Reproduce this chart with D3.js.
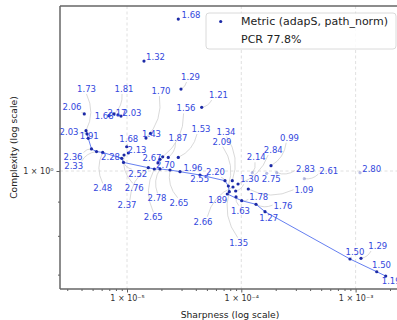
<!DOCTYPE html>
<html>
<head>
<meta charset="utf-8">
<script src="https://cdn.jsdelivr.net/npm/d3@7"></script>
<style>
  body { margin: 0; background: #fff; }
  text { font-family: "DejaVu Sans", sans-serif; }
</style>
</head>
<body>
<svg id="chart" width="397" height="320"></svg>
<script>
// metric value shown next to each run
const labels = [
  '1.68', '1.32', '1.29', '1.21', '1.43', '1.70', '2.06', '1.68', '1.81', '2.17',
  '2.03', '1.73', '2.03', '1.91', '2.36', '2.33', '2.48', '1.68', '2.13', '2.76',
  '2.28', '2.52', '2.37', '2.65', '2.78', '2.65', '1.96', '2.55', '2.20', '2.67',
  '2.70', '1.56', '1.87', '1.53', '1.34', '2.09', '1.35', '1.89', '1.30', '2.66',
  '2.84', '1.63', '1.09', '1.78', '1.76', '1.27', '0.99', '2.14', '2.75', '2.83',
  '2.61', '2.80', '1.50', '1.29', '1.50', '1.19',
]
const sharpness = [
  2.81e-5, 1.408e-5, 2.968e-5, 4.504e-5, 1.605e-5, 1.466e-5, 4.23e-6, 6.96e-6, 7.7e-6, 8.34e-6,
  8.86e-6, 4.38e-6, 4.47e-6, 4.585e-6, 4.89e-6, 5.41e-6, 6.13e-6, 9.94e-6, 1.027e-5, 9.42e-6,
  8.99e-6, 9.32e-6, 1.536e-5, 1.733e-5, 1.944e-5, 2.378e-5, 2.909e-5, 4.353e-5, 7.2e-5, 1.944e-5,
  1.867e-5, 2.053e-5, 2.297e-5, 2.81e-5, 8.34e-5, 7.7e-5, 7.85e-5, 7.54e-5, 8.93e-5, 8.46e-5,
  9.36e-5, 8.99e-5, 1.151e-4, 1.008e-4, 1.345e-4, 1.612e-4, 1.819e-4, 1.248e-4, 1.668e-4, 2.04e-4,
  3.557e-4, 1.093e-3, 8.93e-4, 1.115e-3, 1.53e-3, 1.834e-3,
]
const complexity = [
  1.687, 1.46, 1.326, 1.245, 1.138, 1.12, 1.217, 1.21, 1.217, 1.213,
  1.208, 1.149, 1.136, 1.119, 1.079, 1.069, 1.066, 1.087, 1.064, 1.0566,
  1.0447, 1.03, 1.0114, 1.0069, 1.0069, 1.0034, 0.9976, 0.9863, 0.9672, 1.041,
  1.028, 1.05, 1.048, 1.048, 0.9672, 0.9497, 0.9313, 0.9239, 0.9335, 0.9464,
  0.9563, 0.9145, 0.94, 0.9028, 0.8917, 0.8694, 1.0184, 0.9942, 0.9921, 0.9942,
  0.9739, 0.9942, 0.7387, 0.7404, 0.707, 0.6966,
]
// runs joined by the blue frontier line, in drawing order
const frontier = [11, 13, 14, 15, 16, 20, 21, 22, 23, 24, 25, 26, 27, 28, 35, 36, 37, 43, 44, 45, 52, 54, 55]
// runs drawn pale
const pale = [47, 48, 49, 50, 51]
const legendLines = ['Metric (adapS, path_norm)', 'PCR 77.8%']
const xMajor = [1e-5, 1e-4, 1e-3]
const yMajor = [1]

// label placement after de-overlapping (px from the point)
const labelShift = [
  [12.7, -4], [11.5, -4], [9.5, -12], [16.8, -12.3], [1, 1], [15, -47], [-12.3, -6.5], [-4.8, 0.5], [10, -25], [-1, -2],
  [11, -3], [0.5, -41.7], [-18, -1.5], [1, -2.3], [-18.5, 8.2], [-22.8, 14.8], [0.1, 36], [2.1, -7.7], [8.7, -2.5], [10.2, 33.3],
  [-11.2, -1], [14.3, 11.7], [-21.3, 37.3], [-1, 48.3], [-3, 29.3], [9, 32.7], [13, -4.2], [-0.3, 4.3], [-9.5, -8.4], [-8, -1],
  [7.5, 1.7], [23.3, -48.4], [9.7, -19.5], [22.7, -28.3], [-6.3, -49], [-6.3, -44.3], [9.4, 51], [-9.5, 6], [14, -11.7], [-30, 34.7],
  [35.3, -34], [4.5, 13.7], [55.7, 1], [17.1, -3.4], [27, 1.4], [3.7, 6.6], [18.5, -28], [4, -15.4], [4.6, 5.7], [28.8, -3.4],
  [24.5, -8], [11.7, -3.7], [5, -7.3], [16.8, -12.3], [4.8, -6.7], [5.5, 5],
]

const plot = { left: 60, right: 400, top: 6, bottom: 289 }
const dotColor = '#1c2aa6'
const textColor = '#3347dd'

const svg = d3.select('#chart')
const x = d3.scaleLog().domain([2.593e-6, 2.446e-3]).range([plot.left, plot.right])
const y = d3.scaleLog().domain([0.6662, 1.7647]).range([plot.bottom, plot.top])

svg.append('clipPath').attr('id', 'clip')
  .append('rect').attr('x', plot.left).attr('y', plot.top)
  .attr('width', plot.right - plot.left).attr('height', plot.bottom - plot.top)

// grid
const grid = svg.append('g')
grid.selectAll('line.gx').data(xMajor).join('line')
  .attr('x1', (d) => x(d)).attr('x2', (d) => x(d))
  .attr('y1', plot.top).attr('y2', plot.bottom)
grid.selectAll('line.gy').data(yMajor).join('line')
  .attr('x1', plot.left).attr('x2', plot.right)
  .attr('y1', (d) => y(d)).attr('y2', (d) => y(d))
grid.selectAll('line').attr('stroke', '#d8d8d8').attr('stroke-width', 0.8).attr('stroke-dasharray', '3,2.5')

const idx = d3.range(labels.length)
const px = (i) => x(sharpness[i])
const py = (i) => y(complexity[i])
const lx = (i) => px(i) + labelShift[i][0]
const ly = (i) => py(i) + labelShift[i][1]

function leader(i) {
  const x2 = px(i), y2 = py(i)
  const cx0 = lx(i), cy0 = ly(i)
  const dx = x2 - cx0, dy = y2 - cy0
  const t = Math.min(dx ? Math.abs(10.5 / dx) : Infinity, dy ? Math.abs(5 / dy) : Infinity)
  if (t >= 0.8) return null
  const x1 = cx0 + t * dx, y1 = cy0 + t * dy
  const ddx = x2 - x1, ddy = y2 - y1
  const rad = 0.25
  const qx = (x1 + x2) / 2 + rad * ddy
  const qy = (y1 + y2) / 2 - rad * ddx
  return `M${x1},${y1}Q${qx},${qy} ${x2},${y2}`
}

const body = svg.append('g').attr('clip-path', 'url(#clip)')

body.append('g').selectAll('path')
  .data(idx.filter((i) => leader(i)))
  .join('path')
  .attr('d', (i) => leader(i))
  .attr('fill', 'none')
  .attr('stroke', '#cfcfcf')
  .attr('stroke-width', 0.8)

body.append('path')
  .datum(frontier)
  .attr('d', d3.line().x((i) => px(i)).y((i) => py(i)))
  .attr('fill', 'none')
  .attr('stroke', '#5470ee')
  .attr('stroke-width', 0.9)

body.append('g').selectAll('circle')
  .data(idx)
  .join('circle')
  .attr('cx', px)
  .attr('cy', py)
  .attr('r', 1.6)
  .attr('fill', dotColor)
  .attr('opacity', (i) => (pale.includes(i) ? 0.3 : 1))

svg.append('g').selectAll('text')
  .data(idx)
  .join('text')
  .attr('x', lx)
  .attr('y', ly)
  .attr('text-anchor', 'middle')
  .attr('dominant-baseline', 'central')
  .attr('font-size', 8.5)
  .attr('fill', textColor)
  .text((i) => labels[i])

// axes
const sup = { '-': '⁻', 0: '⁰', 1: '¹', 2: '²', 3: '³', 4: '⁴', 5: '⁵', 6: '⁶', 7: '⁷', 8: '⁸', 9: '⁹' }
const fmt = (d) => '1 × 10' + String(Math.round(Math.log10(d))).split('').map((c) => sup[c]).join('')

const [x0, x1] = x.domain()
const xMinor = []
for (let e = -6; e <= -3; e++) {
  for (let k = 2; k <= 9; k++) {
    const v = k * 10 ** e
    if (v > x0 && v < x1) xMinor.push(v)
  }
}
const yMinor = [0.7, 0.8, 0.9]

const axes = svg.append('g')
axes.append('g').attr('transform', `translate(0,${plot.bottom})`)
  .call(d3.axisBottom(x).tickValues(xMinor).tickSize(2).tickFormat(''))
axes.append('g').attr('transform', `translate(0,${plot.bottom})`)
  .call(d3.axisBottom(x).tickValues(xMajor).tickSize(3.5).tickPadding(3).tickFormat(fmt))
axes.append('g').attr('transform', `translate(${plot.left},0)`)
  .call(d3.axisLeft(y).tickValues(yMinor).tickSize(2).tickFormat(''))
axes.append('g').attr('transform', `translate(${plot.left},0)`)
  .call(d3.axisLeft(y).tickValues(yMajor).tickSize(3.5).tickPadding(3).tickFormat(fmt))
axes.selectAll('.domain').remove()
axes.selectAll('.tick line').attr('stroke', '#333').attr('stroke-width', 0.8)
axes.selectAll('.tick text').attr('font-size', 8).attr('fill', '#333').attr('font-family', '"DejaVu Sans", sans-serif')

// spines
const spine = svg.append('g').attr('stroke', '#666').attr('stroke-width', 1.5)
spine.append('line').attr('x1', plot.left).attr('x2', plot.left).attr('y1', plot.top).attr('y2', plot.bottom)
spine.append('line').attr('x1', plot.left).attr('x2', plot.right).attr('y1', plot.bottom).attr('y2', plot.bottom)
spine.append('line').attr('x1', plot.left).attr('x2', plot.right).attr('y1', plot.top).attr('y2', plot.top)

svg.append('text')
  .attr('x', (plot.left + plot.right) / 2).attr('y', 314)
  .attr('text-anchor', 'middle').attr('dominant-baseline', 'central')
  .attr('font-size', 9.2).attr('fill', '#222')
  .text('Sharpness (log scale)')
svg.append('text')
  .attr('transform', `translate(13,${(plot.top + plot.bottom) / 2}) rotate(-90)`)
  .attr('text-anchor', 'middle').attr('dominant-baseline', 'central')
  .attr('font-size', 9.2).attr('fill', '#222')
  .text('Complexity (log scale)')

// legend
const legend = svg.append('g').attr('transform', 'translate(206,13)')
legend.append('rect')
  .attr('width', 190).attr('height', 36).attr('rx', 3)
  .attr('fill', 'white').attr('fill-opacity', 0.85)
  .attr('stroke', '#d0d0d0').attr('stroke-width', 0.8)
legend.append('circle').attr('cx', 14.7).attr('cy', 8.5).attr('r', 1.6).attr('fill', dotColor)
legend.selectAll('text.l')
  .data(legendLines)
  .join('text')
  .attr('x', 35)
  .attr('y', (d, i) => 8.5 + i * 18)
  .attr('dominant-baseline', 'central')
  .attr('font-size', 11)
  .attr('fill', '#222')
  .text((d) => d)
</script>
</body>
</html>
